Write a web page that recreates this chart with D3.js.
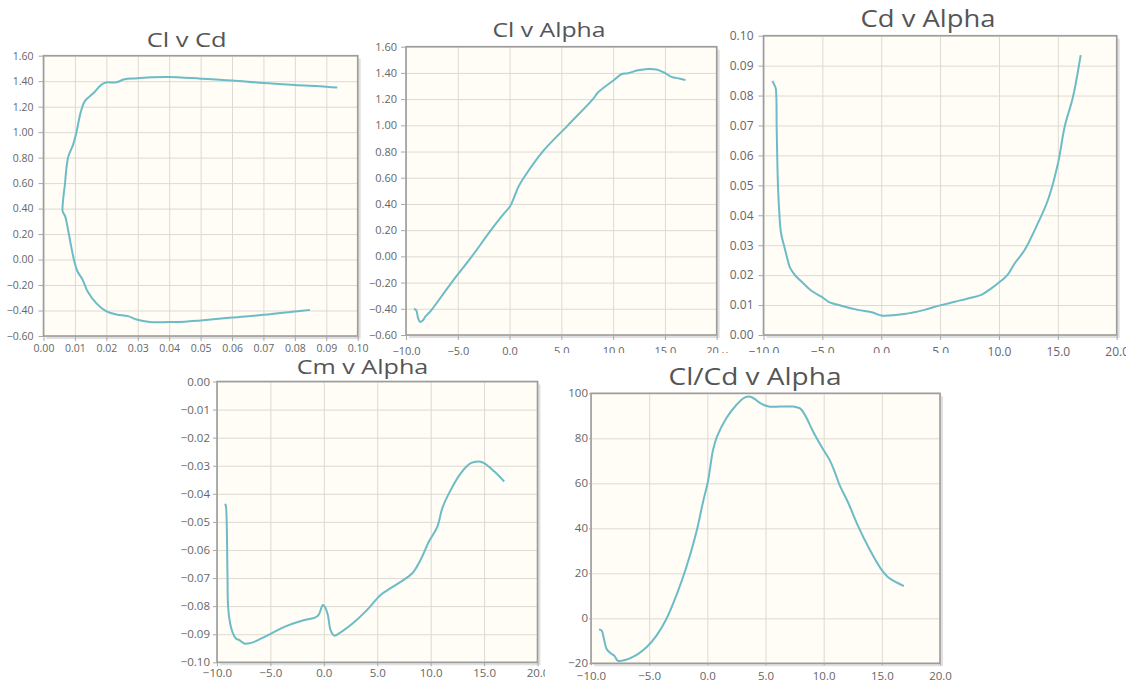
<!DOCTYPE html>
<html>
<head>
<meta charset="utf-8">
<script src="https://cdn.jsdelivr.net/npm/d3@7"></script>
<style>
  body { margin: 0; background: #fff; }
  svg { display: block; }
</style>
</head>
<body>
<svg id="charts" width="1126" height="684"></svg>
<script>
// Cl v Cd polar (in order of increasing alpha)
var polarCd = [0.0848, 0.080, 0.070, 0.060, 0.050, 0.045, 0.0398, 0.0339, 0.0296, 0.0269, 0.0232, 0.0199, 0.0167, 0.0140, 0.0124, 0.0108, 0.0098, 0.0087, 0.0076, 0.0069, 0.0061,
               0.0063, 0.0068, 0.0073, 0.0079, 0.0094, 0.0103, 0.0119, 0.0132, 0.0162, 0.0183, 0.0199, 0.0232, 0.0258, 0.0290, 0.0344, 0.0398, 0.050, 0.060, 0.070, 0.080, 0.090, 0.0935];
var polarCl = [-0.395, -0.408, -0.434, -0.455, -0.478, -0.488, -0.491, -0.491, -0.471, -0.444, -0.431, -0.405, -0.340, -0.249, -0.157, -0.092, -0.014, 0.117, 0.261, 0.339, 0.378,
               0.483, 0.587, 0.717, 0.809, 0.900, 0.979, 1.161, 1.245, 1.313, 1.370, 1.389, 1.391, 1.415, 1.422, 1.430, 1.433, 1.420, 1.405, 1.385, 1.370, 1.357, 1.350];

// Cl v Alpha
var clAlpha = [-9.23, -9.0, -8.84, -8.64, -8.39, -8.1, -7.77, -7.45, -5.6, -3.64, -1.8, -0.51, 0.04, 0.46, 0.85, 1.37, 3.2, 5.63, 8.05, 8.53, 10.15, 10.79, 11.44, 12.41, 13.38, 14.18, 14.99, 15.64, 16.44, 16.99];
var clValues = [-0.40, -0.413, -0.47, -0.50, -0.49, -0.456, -0.43, -0.40, -0.20, 0.0, 0.20, 0.33, 0.38, 0.455, 0.53, 0.60, 0.80, 1.00, 1.20, 1.25, 1.35, 1.39, 1.398, 1.42, 1.43, 1.426, 1.40, 1.37, 1.356, 1.345];

// Cd v Alpha
var cdAlpha = [-9.24, -9.07, -8.96, -8.88, -8.79, -8.68, -8.51, -8.23, -7.98, -7.75, -7.28, -6.63, -5.93, -5.08, -4.47, -3.4, -1.99, -0.73, 0, 1.94, 3.68, 4.99, 6.23, 7.37, 8.5, 9.35, 9.92, 10.71, 11.33, 12.18, 13.17, 14.16, 15.01, 15.58, 16.29, 16.94];
var cdValues = [0.0849, 0.0835, 0.0824, 0.069, 0.0523, 0.0423, 0.034, 0.0295, 0.0256, 0.0225, 0.0198, 0.0173, 0.0148, 0.0128, 0.0111, 0.0098, 0.0084, 0.0075, 0.0065, 0.0070, 0.0084, 0.0099, 0.0111, 0.0122, 0.0134, 0.0156, 0.0173, 0.0200, 0.0239, 0.0284, 0.0362, 0.0451, 0.0573, 0.0696, 0.0796, 0.0935];

// Cm v Alpha
var cmAlpha = [-9.27, -9.18, -9.11, -9.02, -8.96, -8.77, -8.54, -8.23, -7.91, -7.44, -7.12, -6.65, -5.85, -4.9, -3.64, -2.06, -0.79, -0.47, -0.09, 0.09, 0.38, 0.63, 0.98, 1.42, 2.69, 3.96, 5.31, 6.25, 7.34, 8.28, 9.06, 9.84, 10.63, 11.09, 11.88, 12.81, 13.75, 14.53, 15.0, 15.94, 16.88];
var cmValues = [-0.0436, -0.0441, -0.0477, -0.069, -0.0802, -0.0862, -0.0894, -0.0915, -0.0921, -0.0933, -0.0933, -0.0929, -0.0915, -0.0897, -0.0873, -0.0852, -0.0840, -0.0830, -0.0796, -0.0802, -0.0832, -0.0885, -0.0905, -0.0897, -0.0862, -0.0817, -0.0760, -0.0736, -0.0710, -0.0683, -0.0635, -0.0570, -0.0517, -0.0451, -0.0386, -0.0327, -0.0291, -0.0285, -0.0291, -0.0320, -0.0356];

// Cl/Cd v Alpha
var ldAlpha = [-9.31, -9.09, -8.89, -8.66, -8.31, -8.0, -7.71, -7.37, -6.66, -5.94, -5.23, -4.37, -3.51, -2.66, -1.8, -0.94, -0.37, 0.06, 0.49, 0.83, 1.63, 2.49, 3.2, 3.69, 4.2, 4.58, 5.28, 6.27, 7.41, 7.97, 8.4, 9.1, 9.82, 10.52, 10.95, 11.37, 12.08, 12.93, 13.92, 14.92, 15.62, 16.33, 16.9];
var ldValues = [-5.0, -5.4, -9.1, -13.6, -15.5, -16.6, -18.8, -18.9, -17.8, -15.8, -12.9, -7.7, -0.2, 10.2, 22.8, 38.4, 51.7, 61.0, 74.8, 80.7, 88.9, 94.8, 98.1, 98.5, 97.0, 95.5, 94.1, 94.1, 94.1, 93.3, 90.3, 82.9, 76.2, 70.3, 65.1, 59.2, 51.7, 41.3, 30.9, 22.0, 17.9, 15.8, 14.3];

// tick values
var alphaTicks = [-10, -5, 0, 5, 10, 15, 20];
var cdPolarTicks = [0, 0.01, 0.02, 0.03, 0.04, 0.05, 0.06, 0.07, 0.08, 0.09, 0.10];
var clTicks = [-0.6, -0.4, -0.2, 0, 0.2, 0.4, 0.6, 0.8, 1.0, 1.2, 1.4, 1.6];
var cdTicks = [0, 0.01, 0.02, 0.03, 0.04, 0.05, 0.06, 0.07, 0.08, 0.09, 0.10];
var cmTicks = [-0.10, -0.09, -0.08, -0.07, -0.06, -0.05, -0.04, -0.03, -0.02, -0.01, 0];
var ldTicks = [-20, 0, 20, 40, 60, 80, 100];

var FONT = "'Open Sans', 'DejaVu Sans', sans-serif";
var svg = d3.select("#charts");
svg.append("rect").attr("width", 1126).attr("height", 684).attr("fill", "#fff");

var charts = [
  { title: "Cl v Cd", xs: polarCd, ys: polarCl, xTicks: cdPolarTicks, yTicks: clTicks, xFmt: ".2f", yFmt: ".2f",
    left: 43.5, top: 55.7, right: 357.7, bottom: 336, tx: 186.7, ty: 47.3, tSize: 20, tLen: 80,
    fSize: 10.5, tick: 5, padX: 4, padY: 5 },
  { title: "Cl v Alpha", xs: clAlpha, ys: clValues, xTicks: alphaTicks, yTicks: clTicks, xFmt: ".1f", yFmt: ".2f",
    left: 406, top: 46.7, right: 716.7, bottom: 335, tx: 549, ty: 37.3, tSize: 20, tLen: 113,
    fSize: 11, tick: 5, padX: 7, padY: 4 },
  { title: "Cd v Alpha", xs: cdAlpha, ys: cdValues, xTicks: alphaTicks, yTicks: cdTicks, xFmt: ".1f", yFmt: ".2f",
    left: 763.5, top: 35.7, right: 1116.7, bottom: 335, tx: 928, ty: 26.7, tSize: 23.5, tLen: 135,
    fSize: 12, tick: 5, padX: 7, padY: 5, panel: [720, 0, 406, 352] },
  { title: "Cm v Alpha", xs: cmAlpha, ys: cmValues, xTicks: alphaTicks, yTicks: cmTicks, xFmt: ".1f", yFmt: ".2f",
    left: 217, top: 381.5, right: 537.5, bottom: 662.3, tx: 362.5, ty: 374.3, tSize: 20, tLen: 131.7,
    fSize: 11.5, tick: 4, padX: 2.5, padY: 3 },
  { title: "Cl/Cd v Alpha", xs: ldAlpha, ys: ldValues, xTicks: alphaTicks, yTicks: ldTicks, xFmt: ".1f", yFmt: "d",
    left: 591, top: 393.3, right: 940, bottom: 663.3, tx: 755, ty: 385, tSize: 23.5, tLen: 173,
    fSize: 11.5, tick: 2, padX: 7, padY: 1, panel: [545, 353, 420, 331] }
];

function drawChart(c) {
  var g = svg.append("g");
  if (c.panel) {
    g.append("rect").attr("x", c.panel[0]).attr("y", c.panel[1])
      .attr("width", c.panel[2]).attr("height", c.panel[3]).attr("fill", "#fff");
  }
  var w = c.right - c.left, h = c.bottom - c.top;
  var x = d3.scaleLinear().domain(d3.extent(c.xTicks)).range([c.left, c.right]),
      y = d3.scaleLinear().domain(d3.extent(c.yTicks)).range([c.bottom, c.top]);

  // frame shadow
  g.append("path")
    .attr("d", "M" + (c.right + 1.5) + "," + (c.top + 3) + "V" + (c.bottom + 1.5) + "H" + (c.left + 3))
    .attr("fill", "none").attr("stroke", "rgba(0,0,0,0.12)").attr("stroke-width", 3);

  g.append("rect").attr("x", c.left).attr("y", c.top).attr("width", w).attr("height", h)
    .attr("fill", "#fffdf6");

  // grid lines
  var gx = g.append("g").attr("transform", "translate(0," + c.bottom + ")")
    .call(d3.axisBottom(x).tickValues(c.xTicks).tickSize(-h).tickFormat(""));
  var gy = g.append("g").attr("transform", "translate(" + c.left + ",0)")
    .call(d3.axisLeft(y).tickValues(c.yTicks).tickSize(-w).tickFormat(""));
  [gx, gy].forEach(function (a) {
    a.select(".domain").remove();
    a.selectAll("text").remove();
    a.selectAll("line").attr("stroke", "#dedad2").attr("stroke-width", 1);
  });

  // series line
  var line = d3.line()
    .x(function (i) { return x(c.xs[i]); })
    .y(function (i) { return y(c.ys[i]); })
    .curve(d3.curveCatmullRom.alpha(0.5));
  g.append("path").datum(d3.range(c.xs.length))
    .attr("d", line).attr("fill", "none")
    .attr("stroke", "#6bbcc6").attr("stroke-width", 2).attr("stroke-linejoin", "round");

  // frame
  g.append("rect").attr("x", c.left).attr("y", c.top).attr("width", w).attr("height", h)
    .attr("fill", "none").attr("stroke", "#9c9c9c").attr("stroke-width", 1.6);

  // tick labels
  var ax = g.append("g").attr("transform", "translate(0," + c.bottom + ")")
    .call(d3.axisBottom(x).tickValues(c.xTicks).tickFormat(d3.format(c.xFmt)).tickSize(c.tick).tickPadding(c.padX));
  var ay = g.append("g").attr("transform", "translate(" + c.left + ",0)")
    .call(d3.axisLeft(y).tickValues(c.yTicks).tickFormat(d3.format(c.yFmt)).tickSize(c.tick).tickPadding(c.padY));
  [ax, ay].forEach(function (a) {
    a.select(".domain").remove();
    a.attr("font-family", FONT).attr("font-size", c.fSize);
    a.selectAll("line").attr("stroke", "#a8a8a8");
    a.selectAll("text").attr("fill", "#666");
  });

  g.append("text").attr("x", c.tx).attr("y", c.ty)
    .attr("text-anchor", "middle").attr("font-family", FONT).attr("font-size", c.tSize)
    .attr("fill", "#555").attr("textLength", c.tLen).attr("lengthAdjust", "spacingAndGlyphs")
    .text(c.title);
}

charts.forEach(drawChart);
</script>
</body>
</html>
